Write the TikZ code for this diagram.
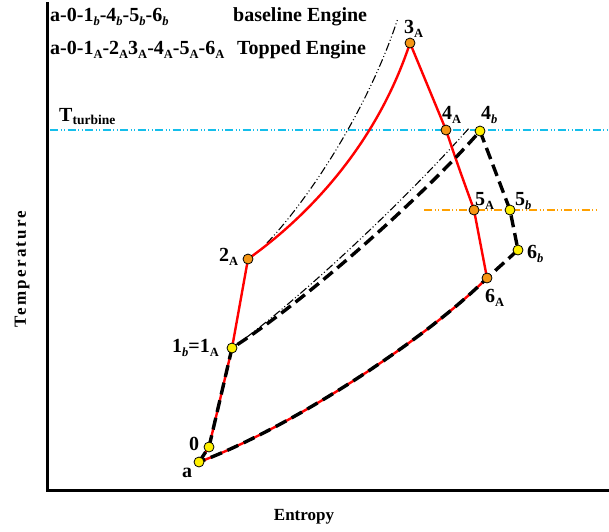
\documentclass[tikz,border=0pt]{standalone}
\usepackage{fontspec}
\setmainfont{Liberation Serif}
\newcommand{\sA}{\raisebox{-4pt}{\fontsize{12.5}{12}\selectfont A}}
\newcommand{\sB}{\raisebox{-4pt}{\fontsize{12.5}{12}\selectfont\itshape b}}
\definecolor{tcyan}{RGB}{20,190,235}
\definecolor{torange}{RGB}{255,160,0}
\definecolor{pyellow}{RGB}{255,240,0}
\definecolor{porange}{RGB}{245,150,20}
\begin{document}
\begin{tikzpicture}[x=1pt,y=-1pt,
  redline/.style={red,line width=2.4pt},
  blackdash/.style={black,line width=3.4pt,dash pattern=on 12pt off 6pt},
  thindd/.style={black,line width=1.1pt,dash pattern=on 8pt off 2.5pt on 1pt off 2.5pt on 1pt off 2.5pt},
  refline/.style={line width=1.4pt,dash pattern=on 8pt off 2.5pt on 1pt off 2.5pt on 1pt off 2.5pt},
  ypt/.style={circle,draw=black,line width=0.8pt,fill=pyellow,inner sep=0pt,minimum size=10pt},
  opt/.style={circle,draw=black,line width=0.8pt,fill=porange,inner sep=0pt,minimum size=10pt},
  lbl/.style={font=\fontsize{20}{20}\selectfont\bfseries,inner sep=0pt,anchor=base west},
  axlbl/.style={font=\fontsize{17}{18}\selectfont\bfseries,inner sep=0pt}]
\useasboundingbox (0,0) rectangle (609,531);
% points
\coordinate (a) at (199,462);
\coordinate (p0) at (209,447);
\coordinate (p1) at (232,348);
\coordinate (p2A) at (248,259);
\coordinate (p3A) at (410,43);
\coordinate (p4A) at (446,130);
\coordinate (p4b) at (480,131);
\coordinate (p5A) at (474,210);
\coordinate (p5b) at (510,210);
\coordinate (p6b) at (518,250);
\coordinate (p6A) at (487,278);
% axes
\coordinate (ytop) at (47,2);
\coordinate (orig) at (47,490);
\coordinate (xend) at (609,490);
\draw[line width=3pt] (ytop) -- (orig) -- (xend);
% reference lines
\coordinate (tl) at (50,130);
\coordinate (tr) at (609,130);
\draw[refline,tcyan] (tl) -- (tr);
\coordinate (ol) at (424,210);
\coordinate (or) at (596,210);
\draw[refline,torange] (ol) -- (or);
% thin dash-dot curves
\coordinate (d1s) at (267,243);
\coordinate (d1e) at (398,18);
\draw[thindd] (d1s) .. controls (308,200) and (368,110) .. (d1e);
\coordinate (d2e) at (470,127);
\draw[thindd] (p1) .. controls (300,300) and (410,195) .. (d2e);
% topped engine (red)
\draw[redline] (a) -- (p0) -- (p1) -- (p2A)
  .. controls (300,222) and (374,152) .. (p3A) -- (p4A)
  .. controls (462,178) and (470,198) .. (p5A) -- (p6A)
  .. controls (425,340) and (290,428) .. (a);
% baseline engine (black dashed)
\draw[blackdash] (a) -- (p0) -- (p1)
  .. controls (300,305) and (420,200) .. (p4b) -- (p5b) -- (p6b) -- (p6A)
  .. controls (425,340) and (290,428) .. (a);
% point markers
\node[ypt] (na) at (a) {};
\node[ypt] (n0) at (p0) {};
\node[ypt] (n1) at (p1) {};
\node[opt] (n2A) at (p2A) {};
\node[opt] (n3A) at (p3A) {};
\node[opt] (n4A) at (p4A) {};
\node[ypt] (n4b) at (p4b) {};
\node[opt] (n5A) at (p5A) {};
\node[ypt] (n5b) at (p5b) {};
\node[ypt] (n6b) at (p6b) {};
\node[opt] (n6A) at (p6A) {};
% point labels
\node[lbl] (la) at (182,477) {a};
\node[lbl] (l0) at (189,450) {0};
\node[lbl,anchor=base east] (l1) at (219,352) {1\sB=1\sA};
\node[lbl] (l2A) at (219,261) {2\sA};
\node[lbl] (l3A) at (404,33) {3\sA};
\node[lbl] (l4A) at (442,119) {4\sA};
\node[lbl] (l4b) at (481,119) {4\sB};
\node[lbl] (l5A) at (475,205) {5\sA};
\node[lbl] (l5b) at (515,205) {5\sB};
\node[lbl] (l6b) at (527,258) {6\sB};
\node[lbl] (l6A) at (485,302) {6\sA};
\node[lbl] (lT) at (59,121) {T\raisebox{-3pt}{\fontsize{13.5}{13}\selectfont turbine}};
% legend
\node[lbl] (lg1) at (50,21) {a-0-1\sB-4\sB-5\sB-6\sB};
\node[lbl] (lg1t) at (233,21) {baseline Engine};
\node[lbl] (lg2) at (50,54) {a-0-1\sA-2\sA3\sA-4\sA-5\sA-6\sA};
\node[lbl] (lg2t) at (237,54) {Topped Engine};
% axis labels
\node[axlbl,rotate=90] (ylab) at (22,269) {\addfontfeature{LetterSpace=13}Temperature};
\node[axlbl] (xlab) at (304,517) {Entropy};
\end{tikzpicture}
\end{document}
